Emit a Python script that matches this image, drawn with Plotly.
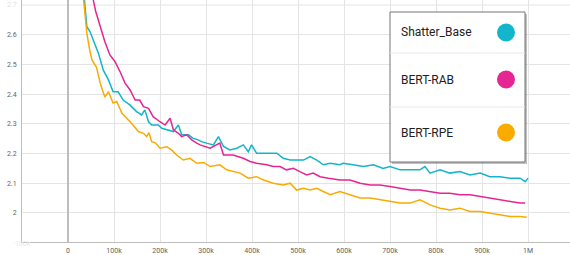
import plotly.graph_objects as go

# ---- data (step in thousands, loss) ----
cyan_steps = [32, 38, 41, 48, 55, 66, 77, 88, 98, 109, 120, 135, 149, 160, 167, 175, 182, 196, 204, 215,
              229, 240, 247, 262, 272, 283, 290, 301, 316, 327, 338, 352, 367, 381, 392, 399, 410, 432,
              454, 468, 483, 497, 512, 526, 541, 555, 570, 591, 598, 620, 642, 664, 685, 700, 722, 744,
              765, 776, 787, 809, 830, 852, 874, 896, 917, 939, 961, 983, 994, 1000]
cyan_vals = [2.78, 2.68, 2.627, 2.61, 2.582, 2.538, 2.48, 2.448, 2.408, 2.408, 2.38, 2.363, 2.341, 2.33,
             2.347, 2.307, 2.296, 2.296, 2.285, 2.28, 2.274, 2.296, 2.263, 2.263, 2.251, 2.246, 2.24,
             2.235, 2.229, 2.257, 2.224, 2.212, 2.218, 2.229, 2.206, 2.229, 2.201, 2.201, 2.201, 2.184,
             2.178, 2.178, 2.178, 2.19, 2.178, 2.162, 2.167, 2.162, 2.167, 2.162, 2.156, 2.162, 2.15,
             2.156, 2.145, 2.145, 2.145, 2.156, 2.134, 2.145, 2.134, 2.139, 2.128, 2.134, 2.122, 2.122,
             2.117, 2.117, 2.105, 2.117]

pink_steps = [50, 55, 60, 66, 73, 80, 91, 102, 113, 124, 135, 146, 156, 164, 175, 185, 200, 211, 222, 229,
              240, 247, 258, 269, 280, 287, 309, 330, 338, 359, 381, 396, 410, 432, 446, 461, 475, 490,
              504, 519, 533, 548, 566, 591, 613, 635, 657, 678, 700, 722, 744, 765, 787, 809, 830, 852,
              874, 896, 917, 939, 961, 983, 994]
pink_vals = [2.78, 2.717, 2.68, 2.65, 2.616, 2.577, 2.532, 2.51, 2.476, 2.437, 2.414, 2.38, 2.38, 2.358,
             2.352, 2.324, 2.307, 2.296, 2.319, 2.28, 2.268, 2.257, 2.263, 2.246, 2.235, 2.229, 2.218,
             2.235, 2.195, 2.195, 2.184, 2.173, 2.167, 2.162, 2.156, 2.156, 2.145, 2.15, 2.139, 2.128,
             2.134, 2.122, 2.117, 2.111, 2.111, 2.1, 2.094, 2.094, 2.089, 2.083, 2.077, 2.077, 2.072,
             2.066, 2.066, 2.061, 2.061, 2.055, 2.05, 2.044, 2.038, 2.033, 2.033]

orange_steps = [30, 35, 41, 47, 52, 62, 70, 80, 88, 98, 106, 117, 128, 138, 153, 164, 171, 176, 182, 190,
                200, 215, 225, 236, 251, 265, 280, 295, 309, 320, 330, 345, 359, 374, 392, 410, 425, 446,
                468, 483, 497, 512, 526, 541, 555, 570, 591, 613, 635, 657, 678, 700, 722, 744, 765, 780,
                787, 809, 830, 852, 874, 896, 917, 939, 961, 983, 997]
orange_vals = [2.78, 2.70, 2.605, 2.55, 2.515, 2.49, 2.437, 2.39, 2.408, 2.37, 2.375, 2.336, 2.319, 2.302,
               2.274, 2.268, 2.257, 2.27, 2.24, 2.236, 2.218, 2.223, 2.212, 2.195, 2.178, 2.184, 2.167,
               2.17, 2.156, 2.158, 2.162, 2.145, 2.139, 2.134, 2.117, 2.122, 2.111, 2.1, 2.094, 2.1, 2.077,
               2.083, 2.077, 2.083, 2.072, 2.061, 2.072, 2.061, 2.05, 2.05, 2.044, 2.038, 2.033, 2.033,
               2.044, 2.033, 2.027, 2.016, 2.01, 2.016, 2.005, 2.005, 1.999, 1.993, 1.988, 1.988, 1.985]

series_names = ["Shatter_Base", "BERT-RAB", "BERT-RPE"]
series_colors = ["#12b5cb", "#e52592", "#f9ab00"]

x_tick_vals = [0, 100000, 200000, 300000, 400000, 500000, 600000, 700000, 800000, 900000, 1000000]
x_tick_text = ["0", "100k", "200k", "300k", "400k", "500k", "600k", "700k", "800k", "900k", "1M"]
y_tick_vals = [2.0, 2.1, 2.2, 2.3, 2.4, 2.5, 2.6]
y_tick_text = ["2", "2.1", "2.2", "2.3", "2.4", "2.5", "2.6"]

W, H = 570, 255
ML, MR, MT, MB = 22, 0, 0, 13

fig = go.Figure()
for steps, vals, name, col in [(cyan_steps, cyan_vals, series_names[0], series_colors[0]),
                               (pink_steps, pink_vals, series_names[1], series_colors[1]),
                               (orange_steps, orange_vals, series_names[2], series_colors[2])]:
    fig.add_trace(go.Scatter(x=[s * 1000 for s in steps], y=vals, mode="lines", name=name,
                             line=dict(color=col, width=1.5), showlegend=False))

fig.update_layout(
    width=W, height=H,
    margin=dict(l=ML, r=MR, t=MT, b=MB, pad=0),
    plot_bgcolor="white", paper_bgcolor="white",
    font=dict(family="Roboto", size=7, color="#616161"),
    xaxis=dict(range=[-100000, 1091300], tickvals=x_tick_vals, ticktext=x_tick_text,
               showgrid=True, gridcolor="#e4e4e4", gridwidth=1, automargin=False,
               zeroline=True, zerolinecolor="#bdbdbd", zerolinewidth=1.5,
               showline=True, linecolor="#bdbdbd", linewidth=1, ticks="outside", ticklen=2,
               tickcolor="rgba(0,0,0,0)"),
    yaxis=dict(range=[1.902, 2.717], tickvals=y_tick_vals, ticktext=y_tick_text, automargin=False,
               showgrid=True, gridcolor="#e4e4e4", gridwidth=1, zeroline=False,
               showline=True, linecolor="#bdbdbd", linewidth=1, ticks="outside", ticklen=3,
               tickcolor="rgba(0,0,0,0)"),
)

# extra faded gridlines / labels at the edges
for gv in [1.9, 2.7]:
    fig.add_shape(type="line", xref="paper", yref="y", x0=0, x1=1, y0=gv, y1=gv,
                  line=dict(color="#e4e4e4", width=1), layer="below")
fig.add_annotation(x=-100000, y=0, xref="x", yref="paper", yshift=-8, text="-100k", showarrow=False,
                   font=dict(size=7, color="#e6e6e6"))
fig.add_annotation(x=1100000, y=0, xref="x", yref="paper", yshift=-8, text="1.1M", showarrow=False,
                   font=dict(size=7, color="#e6e6e6"))
fig.add_annotation(x=0, y=2.7, xref="paper", yref="y", xshift=-3, xanchor="right", text="2.7",
                   showarrow=False, font=dict(size=7, color="#e0e0e0"))
fig.add_annotation(x=0, y=1.9, xref="paper", yref="y", xshift=-3, xanchor="right", text="1.9",
                   showarrow=False, font=dict(size=7, color="#e0e0e0"))

# ---- legend box (pixel layout converted to paper coords) ----
pw, ph = W - ML - MR, H - MT - MB
def px(x):
    return (x - ML) / pw
def py(y):
    return 1 - (y - MT) / ph

bx0, bx1, by0, by1 = 390, 525, 12, 162
fig.add_shape(type="rect", xref="paper", yref="paper", x0=px(bx0 + 2), x1=px(bx1 + 2),
              y0=py(by0 + 2), y1=py(by1 + 2), fillcolor="rgba(0,0,0,0.25)", line=dict(width=0))
fig.add_shape(type="rect", xref="paper", yref="paper", x0=px(bx0), x1=px(bx1), y0=py(by0), y1=py(by1),
              fillcolor="white", line=dict(color="#757575", width=1))
for sy in [53, 107]:
    fig.add_shape(type="line", xref="paper", yref="paper", x0=px(bx0), x1=px(bx1), y0=py(sy), y1=py(sy),
                  line=dict(color="#e8e8e8", width=1))
for name, col, cy in zip(series_names, series_colors, [32.5, 79.5, 132.5]):
    fig.add_annotation(x=px(399), y=py(cy), xref="paper", yref="paper", xanchor="left", yanchor="middle",
                       text=name, showarrow=False, font=dict(size=12, color="#212121", family="Roboto"))
    fig.add_shape(type="circle", xref="paper", yref="paper", xsizemode="pixel", ysizemode="pixel",
                  xanchor=px(506), yanchor=py(cy), x0=-9, x1=9, y0=-9, y1=9,
                  fillcolor=col, line=dict(width=0))

fig.write_html("out.html", config={"displayModeBar": False},
               post_script="document.body.style.margin='0px';document.body.style.overflow='hidden';")
